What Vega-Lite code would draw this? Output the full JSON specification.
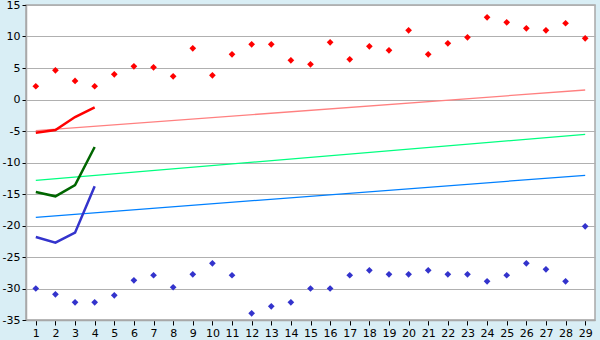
{
  "$schema": "https://vega.github.io/schema/vega-lite/v6.json",
  "width": 569,
  "height": 315,
  "autosize": {"type": "none"},
  "padding": {"left": 26, "top": 5, "right": 5, "bottom": 20},
  "background": "#d9eef5",
  "config": {
    "view": {"fill": "white", "stroke": "#a8a8a8", "strokeWidth": 1.5},
    "axis": {"labelFont": "DejaVu Sans", "labelFontSize": 11, "labelColor": "black", "tickColor": "black", "domainColor": "#a8a8a8", "domainWidth": 1.5, "title": null}
  },
  "datasets": {
    "pts": [
      {"x": 1, "y": 2.1, "s": "top"}, {"x": 2, "y": 4.63, "s": "top"}, {"x": 3, "y": 2.94, "s": "top"}, {"x": 4, "y": 2.1, "s": "top"},
      {"x": 5, "y": 4.0, "s": "top"}, {"x": 6, "y": 5.27, "s": "top"}, {"x": 7, "y": 5.11, "s": "top"}, {"x": 8, "y": 3.68, "s": "top"},
      {"x": 9, "y": 8.13, "s": "top"}, {"x": 10, "y": 3.84, "s": "top"}, {"x": 11, "y": 7.17, "s": "top"}, {"x": 12, "y": 8.76, "s": "top"},
      {"x": 13, "y": 8.76, "s": "top"}, {"x": 14, "y": 6.22, "s": "top"}, {"x": 15, "y": 5.59, "s": "top"}, {"x": 16, "y": 9.08, "s": "top"},
      {"x": 17, "y": 6.38, "s": "top"}, {"x": 18, "y": 8.44, "s": "top"}, {"x": 19, "y": 7.81, "s": "top"}, {"x": 20, "y": 10.98, "s": "top"},
      {"x": 21, "y": 7.17, "s": "top"}, {"x": 22, "y": 8.92, "s": "top"}, {"x": 23, "y": 9.87, "s": "top"}, {"x": 24, "y": 13.05, "s": "top"},
      {"x": 25, "y": 12.25, "s": "top"}, {"x": 26, "y": 11.3, "s": "top"}, {"x": 27, "y": 10.98, "s": "top"}, {"x": 28, "y": 12.1, "s": "top"},
      {"x": 29, "y": 9.71, "s": "top"},
      {"x": 1, "y": -30.0, "s": "bottom"}, {"x": 2, "y": -30.92, "s": "bottom"}, {"x": 3, "y": -32.2, "s": "bottom"}, {"x": 4, "y": -32.2, "s": "bottom"},
      {"x": 5, "y": -31.08, "s": "bottom"}, {"x": 6, "y": -28.7, "s": "bottom"}, {"x": 7, "y": -27.9, "s": "bottom"}, {"x": 8, "y": -29.8, "s": "bottom"},
      {"x": 9, "y": -27.75, "s": "bottom"}, {"x": 10, "y": -26.0, "s": "bottom"}, {"x": 11, "y": -27.9, "s": "bottom"}, {"x": 12, "y": -33.94, "s": "bottom"},
      {"x": 13, "y": -32.83, "s": "bottom"}, {"x": 14, "y": -32.2, "s": "bottom"}, {"x": 15, "y": -30.0, "s": "bottom"}, {"x": 16, "y": -30.0, "s": "bottom"},
      {"x": 17, "y": -27.9, "s": "bottom"}, {"x": 18, "y": -27.11, "s": "bottom"}, {"x": 19, "y": -27.75, "s": "bottom"}, {"x": 20, "y": -27.75, "s": "bottom"},
      {"x": 21, "y": -27.11, "s": "bottom"}, {"x": 22, "y": -27.75, "s": "bottom"}, {"x": 23, "y": -27.75, "s": "bottom"}, {"x": 24, "y": -28.86, "s": "bottom"},
      {"x": 25, "y": -27.9, "s": "bottom"}, {"x": 26, "y": -26.0, "s": "bottom"}, {"x": 27, "y": -26.96, "s": "bottom"}, {"x": 28, "y": -28.86, "s": "bottom"},
      {"x": 29, "y": -20.13, "s": "bottom"}
    ],
    "trends": [
      {"x": 1, "y": -4.95, "s": "trendRed"}, {"x": 29, "y": 1.51, "s": "trendRed"},
      {"x": 1, "y": -12.83, "s": "trendGreen"}, {"x": 29, "y": -5.53, "s": "trendGreen"},
      {"x": 1, "y": -18.7, "s": "trendBlue"}, {"x": 29, "y": -12.03, "s": "trendBlue"}
    ],
    "lines": [
      {"x": 1, "y": -5.26, "s": "red"}, {"x": 2, "y": -4.84, "s": "red"}, {"x": 3, "y": -2.78, "s": "red"}, {"x": 4, "y": -1.24, "s": "red"},
      {"x": 1, "y": -14.68, "s": "green"}, {"x": 2, "y": -15.37, "s": "green"}, {"x": 3, "y": -13.57, "s": "green"}, {"x": 4, "y": -7.54, "s": "green"},
      {"x": 1, "y": -21.83, "s": "blue"}, {"x": 2, "y": -22.73, "s": "blue"}, {"x": 3, "y": -21.14, "s": "blue"}, {"x": 4, "y": -13.78, "s": "blue"}
    ]
  },
  "encoding": {
    "x": {"field": "x", "type": "quantitative", "scale": {"domain": [0.5, 29.5], "nice": false, "zero": false},
      "axis": {"values": [1,2,3,4,5,6,7,8,9,10,11,12,13,14,15,16,17,18,19,20,21,22,23,24,25,26,27,28,29], "grid": false, "tickSize": 5, "labelPadding": 2, "labelExpr": "datum.value + ''"}},
    "y": {"field": "y", "type": "quantitative", "scale": {"domain": [-35, 15], "nice": false, "zero": false},
      "axis": {"values": [-35,-30,-25,-20,-15,-10,-5,0,5,10,15], "grid": true, "gridColor": "#b0b0b0", "gridWidth": 1.2, "tickSize": 4, "labelPadding": 2, "labelExpr": "datum.value + ''"}}
  },
  "layer": [
    {
      "data": {"name": "trends"},
      "mark": {"type": "line", "strokeWidth": 1.3},
      "encoding": {
        "color": {"field": "s", "type": "nominal", "legend": null,
          "scale": {"domain": ["trendRed", "trendGreen", "trendBlue"], "range": ["#ff8080", "#00ff80", "#0080ff"]}},
        "order": {"field": "x", "type": "quantitative"}
      }
    },
    {
      "data": {"name": "lines"},
      "mark": {"type": "line", "strokeWidth": 2.5},
      "encoding": {
        "color": {"field": "s", "type": "nominal", "legend": null,
          "scale": {"domain": ["red", "green", "blue"], "range": ["#ff0000", "#006600", "#3333cc"]}},
        "order": {"field": "x", "type": "quantitative"}
      }
    },
    {
      "data": {"name": "pts"},
      "mark": {"type": "point", "shape": "diamond", "filled": true, "size": 45, "opacity": 1},
      "encoding": {
        "color": {"field": "s", "type": "nominal", "legend": null,
          "scale": {"domain": ["top", "bottom"], "range": ["#ff0000", "#3333cc"]}}
      }
    }
  ],
  "resolve": {"scale": {"color": "independent"}}
}
